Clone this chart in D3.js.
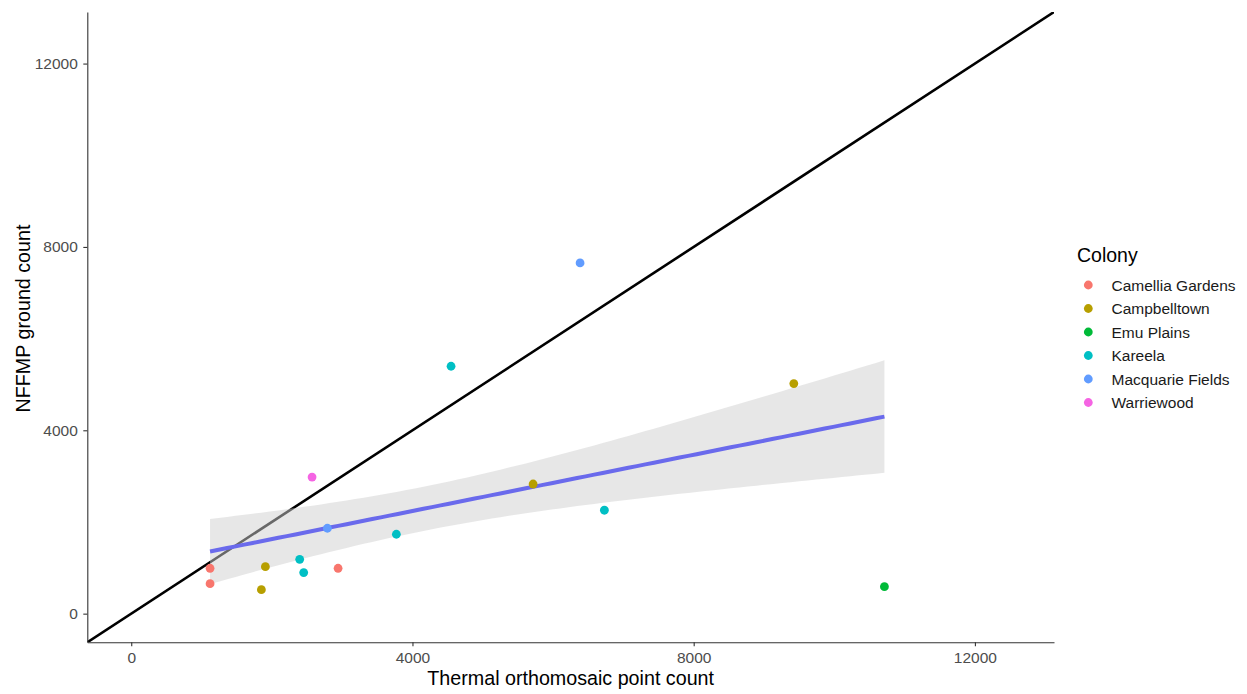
<!DOCTYPE html>
<html>
<head>
<meta charset="utf-8">
<script src="https://cdn.jsdelivr.net/npm/d3@7"></script>
<style>
  body { margin: 0; background: #fff; }
  svg { font-family: "Liberation Sans", Arial, sans-serif; }
</style>
</head>
<body>
<svg width="1247" height="694"></svg>
<script>
// colonies and their colours (ggplot hue palette)
const colonies = ['Camellia Gardens', 'Campbelltown', 'Emu Plains', 'Kareela', 'Macquarie Fields', 'Warriewood'];
const colonyColors = ['#F8766D', '#B79F00', '#00BA38', '#00BFC4', '#619CFF', '#F564E3'];

// thermal count (x), ground count (y) and colony of each survey
const thermal = [1121, 1121, 2942, 1851, 1908, 5716, 9424, 10713, 2396, 2453, 3771, 4549, 6730, 2790, 6384, 2572];
const ground  = [990, 654, 990, 524, 1025, 2828, 5018, 589, 1186, 895, 1732, 5397, 2256, 1863, 7651, 2979];
const colony  = [0, 0, 0, 1, 1, 1, 1, 2, 3, 3, 3, 3, 3, 4, 4, 5];

const ticks = [0, 4000, 8000, 12000];

const svg = d3.select('svg');
const pLeft = 87.3, pRight = 1054, pTop = 12, pBottom = 642.3;

const x = d3.scaleLinear().domain([-625, 13125]).range([pLeft, pRight]);
const y = d3.scaleLinear().domain([-625, 13125]).range([pBottom, pTop]);
const color = d3.scaleOrdinal().domain(d3.range(colonies.length)).range(colonyColors);

svg.append('clipPath').attr('id', 'panel')
  .append('rect').attr('x', pLeft).attr('y', pTop).attr('width', pRight - pLeft).attr('height', pBottom - pTop);

const panel = svg.append('g').attr('clip-path', 'url(#panel)');

// y = x reference line
panel.append('line')
  .attr('x1', x(-625)).attr('y1', y(-625))
  .attr('x2', x(13125)).attr('y2', y(13125))
  .attr('stroke', '#000').attr('stroke-width', 2.6);

// linear fit with +/- 1 SE band
const data = thermal.map((t, i) => ({ x: t, y: ground[i], c: colony[i] }));
const n = data.length;
const mx = d3.mean(data, d => d.x);
const my = d3.mean(data, d => d.y);
const sxx = d3.sum(data, d => (d.x - mx) ** 2);
const sxy = d3.sum(data, d => (d.x - mx) * (d.y - my));
const slope = sxy / sxx;
const intercept = my - slope * mx;
const s = Math.sqrt(d3.sum(data, d => (d.y - intercept - slope * d.x) ** 2) / (n - 2));
const mult = 1;

const [xmin, xmax] = d3.extent(thermal);
const fit = d3.range(80).map(i => {
  const xv = xmin + (xmax - xmin) * i / 79;
  const fitted = intercept + slope * xv;
  const se = s * Math.sqrt(1 / n + (xv - mx) ** 2 / sxx);
  return { x: xv, y: fitted, lo: fitted - mult * se, hi: fitted + mult * se };
});

panel.append('path')
  .attr('d', d3.area().x(d => x(d.x)).y0(d => y(d.lo)).y1(d => y(d.hi))(fit))
  .attr('fill', '#d0d0d0').attr('fill-opacity', 0.5);

panel.append('path')
  .attr('d', d3.line().x(d => x(d.x)).y(d => y(d.y))(fit))
  .attr('fill', 'none').attr('stroke', '#6a6aec').attr('stroke-width', 4);

panel.selectAll('circle.pt')
  .data(data)
  .join('circle')
  .attr('class', 'pt')
  .attr('cx', d => x(d.x)).attr('cy', d => y(d.y))
  .attr('r', 4.4)
  .attr('fill', d => color(d.c));

// axes
const xAxis = svg.append('g').attr('transform', `translate(0,${pBottom})`)
  .call(d3.axisBottom(x).tickValues(ticks).tickFormat(d3.format('d')).tickSize(4).tickPadding(5.5).tickSizeOuter(0));
const yAxis = svg.append('g').attr('transform', `translate(${pLeft},0)`)
  .call(d3.axisLeft(y).tickValues(ticks).tickFormat(d3.format('d')).tickSize(4).tickPadding(5.5).tickSizeOuter(0));

[xAxis, yAxis].forEach(g => {
  g.select('.domain').attr('stroke', '#333').attr('stroke-width', 1.1);
  g.selectAll('.tick line').attr('stroke', '#333').attr('stroke-width', 1.1);
  g.selectAll('.tick text').attr('fill', '#4d4d4d').style('font-size', '15.5px')
    .style('font-family', '"Liberation Sans", Arial, sans-serif');
});

svg.append('text')
  .attr('x', (pLeft + pRight) / 2).attr('y', 684.5)
  .attr('text-anchor', 'middle').style('font-size', '19.7px')
  .text('Thermal orthomosaic point count');

svg.append('text')
  .attr('transform', `translate(30,318.5) rotate(-90)`)
  .attr('text-anchor', 'middle').style('font-size', '19.7px')
  .text('NFFMP ground count');

// legend
const legend = svg.append('g').attr('transform', 'translate(1077,0)');
legend.append('text').attr('x', 0).attr('y', 262).style('font-size', '19.5px').text('Colony');
const items = legend.selectAll('g.item')
  .data(colonies)
  .join('g')
  .attr('class', 'item')
  .attr('transform', (d, i) => `translate(0,${285 + i * 23.5})`);
items.append('circle').attr('cx', 11.3).attr('cy', 0).attr('r', 4.4).attr('fill', (d, i) => colonyColors[i]);
items.append('text').attr('x', 34.5).attr('y', 5.5).style('font-size', '15.5px').attr('fill', '#1a1a1a').text(d => d);
</script>
</body>
</html>
